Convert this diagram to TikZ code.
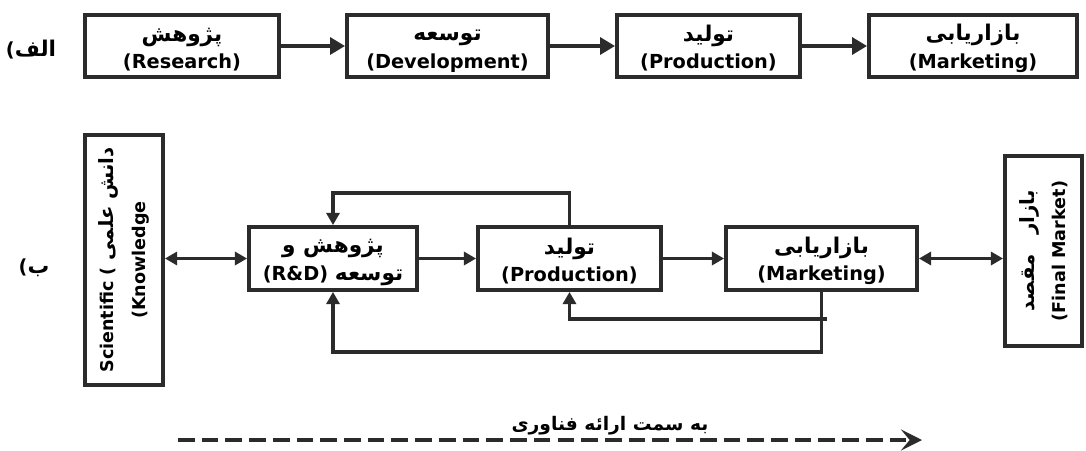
\documentclass[tikz,border=0pt]{standalone}
\usepackage{fontspec}
\setmainfont{DejaVu Sans}
\newfontfamily\fafont[Script=Arabic,Scale=1.12]{DejaVu Sans}
\TeXXeTstate=1
\usetikzlibrary{arrows.meta}
\definecolor{linegray}{HTML}{2B2B2B}
\newcommand{\fa}[1]{{\fafont\beginR #1\endR}}
\newcommand{\topstrut}{\rule{0pt}{12pt}}

\tikzset{
  box/.style={draw=linegray, line width=2.2pt, align=center, inner sep=0pt,
              font=\bfseries\fontsize{11}{15.5}\selectfont},
  sidebox/.style={box, rotate=90, font=\bfseries\fontsize{10}{18}\selectfont},
  arr/.style={draw=linegray, line width=2.2pt, -{Triangle[length=8.5pt,width=9.5pt]}},
  fb/.style={draw=linegray, line width=2pt, -{Triangle[length=7pt,width=7.5pt]}},
  dbl/.style={fb, {Triangle[length=7pt,width=7.5pt]}-{Triangle[length=7pt,width=7.5pt]}},
  tag/.style={font=\bfseries\fontsize{11}{12}\selectfont, inner sep=0pt}
}

\begin{document}
\begin{tikzpicture}[x=0.02cm,y=-0.02cm]
  \useasboundingbox (0,0) rectangle (1086,450);

  % row (alef)
  \node[tag] (alef) at (31,50) {(\fa{الف}};
  \node[box, minimum width=3.88cm, minimum height=1.24cm] (res) at (182,46)
    {\topstrut\fa{پژوهش}\\(Research)};
  \node[box, minimum width=4.02cm, minimum height=1.24cm] (dev) at (447.5,46)
    {\topstrut\fa{توسعه}\\(Development)};
  \node[box, minimum width=3.66cm, minimum height=1.24cm] (pro) at (708.5,46)
    {\topstrut\fa{تولید}\\(Production)};
  \node[box, minimum width=4.16cm, minimum height=1.24cm] (mar) at (973,46)
    {\topstrut\fa{بازاریابی}\\(Marketing)};
  \draw[arr] (res) -- (dev);
  \draw[arr] (dev) -- (pro);
  \draw[arr] (pro) -- (mar);

  % row (be)
  \node[tag] (be) at (34,268) {(\fa{ب}};
  \node[sidebox, minimum width=5.0cm, minimum height=1.56cm] (know) at (124,260)
    {Scientific ( \fa{دانش علمی}\\(Knowledge};
  \node[box, minimum width=3.36cm, minimum height=1.26cm] (rd) at (333,258.5)
    {\topstrut\fa{پژوهش و}\\(R\&D) \fa{توسعه}};
  \node[box, minimum width=3.66cm, minimum height=1.26cm] (prod) at (569.5,258.5)
    {\topstrut\fa{تولید}\\(Production)};
  \node[box, minimum width=3.82cm, minimum height=1.26cm] (mkt) at (821.5,258.5)
    {\topstrut\fa{بازاریابی}\\(Marketing)};
  \node[sidebox, minimum width=3.8cm, minimum height=1.54cm] (fin) at (1043.5,251)
    {\fa{بازار\quad مقصد}\\(Final Market)};

  \draw[dbl] (rd.west) -- (rd.west -| know.south);
  \draw[fb] (rd) -- (prod);
  \draw[fb] (prod) -- (mkt);
  \draw[dbl] (mkt.east) -- (mkt.east -| fin.north);

  \coordinate (top) at (0,193);
  \coordinate (mid) at (0,319);
  \coordinate (low) at (0,352);
  \draw[fb] (prod.north) -- (prod.north |- top) -- (rd.north |- top) -- (rd.north);
  \draw[fb] (mkt.south) -- (mkt.south |- low) -- (rd.south |- low) -- (rd.south);
  \draw[fb] ([xshift=3pt]mkt.south |- mid) -- (prod.south |- mid) -- (prod.south);

  % direction
  \coordinate (ds) at (178,440);
  \coordinate (de) at (922,440);
  \draw[draw=linegray, line width=2.4pt, dash pattern=on 9.5pt off 4pt,
        -{Stealth[length=12pt,width=12pt,inset=5pt]}] (ds) -- (de);
  \node[tag, font=\bfseries\fontsize{9.5}{12}\selectfont] (dir) at (610,426)
    {\fa{به سمت ارائه فناوری}};
\end{tikzpicture}
\end{document}
